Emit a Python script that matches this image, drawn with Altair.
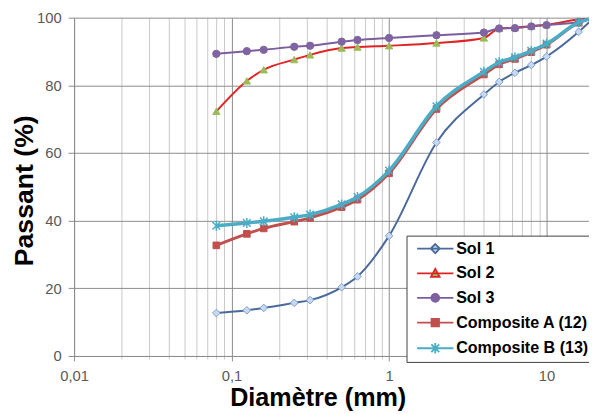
import altair as alt
import pandas as pd

# ---- data ----
diam = [0.08, 0.125, 0.16, 0.25, 0.315, 0.5, 0.63, 1, 2, 4, 5, 6.3, 8, 10, 16, 20]
sol1 = [12.7, 13.5, 14.2, 15.7, 16.5, 20.3, 23.5, 35.5, 63.1, 77.3, 81.0, 83.7, 86.0, 88.5, 95.8, 100]
sol2 = [72.3, 81.3, 84.6, 87.6, 89.0, 91.0, 91.3, 91.7, 92.5, 94.0, 96.8, 97.0, 97.5, 97.9, 99.5, 100]
sol3 = [89.3, 90.1, 90.5, 91.4, 91.7, 92.9, 93.4, 94.0, 94.8, 95.6, 96.8, 96.9, 97.4, 97.8, 98.7, 100]
compA = [32.7, 36.1, 37.7, 39.7, 40.8, 44.0, 46.2, 54.0, 73.0, 83.2, 86.2, 87.8, 89.8, 92.0, 98.5, 100]
compB = [38.5, 39.3, 39.8, 41.0, 41.8, 44.8, 47.0, 54.8, 73.8, 84.0, 86.8, 88.3, 90.2, 92.3, 98.6, 100]

names = ["Sol 1", "Sol 2", "Sol 3", "Composite A (12)", "Composite B (13)"]
series = [sol1, sol2, sol3, compA, compB]

x_ticks = [0.01, 0.1, 1, 10]
x_minor = [m * d for d in [0.01, 0.1, 1, 10] for m in range(2, 10)]
y_ticks = [0, 20, 40, 60, 80, 100]

# ---- styles ----
line_colors = ["#4A6A9C", "#E02424", "#7B5EA0", "#C0504D", "#4BACC6"]
line_widths = [2, 2, 2, 3, 3.5]
mk_fill = ["#C6D9F0", "#9BBB59", "#8064A2", "#C0504D", "#4BACC6"]
mk_stroke = ["#7F9FCF", "#9BBB59", "#8064A2", "#C0504D", "#4BACC6"]
mk_shape = ["diamond", "triangle-up", "circle", "square",
            "M-1,-1L1,1M-1,1L1,-1M0,-1.3V1.3"]
mk_size = [60, 55, 55, 45, 60]
leg_paths = [
    "M-4.6,0H4.6M0,-1.15L1.15,0L0,1.15L-1.15,0Z",
    "M-4.6,0H4.6M0,-1.1L1.1,0.9L-1.1,0.9Z",
    "M-4.6,0H4.6M1,0A1,1 0 1,1 -1,0A1,1 0 1,1 1,0Z",
    "M-4.6,0H4.6M-0.95,-0.95H0.95V0.95H-0.95Z",
    "M-4.6,0H4.6M-1,-1L1,1M-1,1L1,-1M0,-1.3V1.3",
]

rows = []
for n, vals in zip(names, series):
    for d, v in zip(diam, vals):
        rows.append({"serie": n, "diam": d, "pct": v})
df = pd.DataFrame(rows)

FONT = "Liberation Sans"
GRID = "#8C8C8C"
XMAX = 18.6

xscale = alt.Scale(type="log", domain=[0.01, XMAX], nice=False)
yscale = alt.Scale(domain=[0, 100], nice=False)

x_axis = alt.Axis(orient="bottom", values=x_ticks,
                  labelExpr="replace(toString(datum.value), '.', ',')",
                  grid=True, gridColor=GRID, gridWidth=1, domainColor=GRID,
                  tickColor=GRID, tickSize=5, labelColor="#595959", labelFont=FONT,
                  labelFontSize=15, labelPadding=8, title="Diamètre (mm)",
                  titleFont=FONT, titleFontSize=25.5, titleFontWeight="bold",
                  titleColor="black", titleX=247, titleY=42, titleAlign="center",
                  titleBaseline="middle", labelFlush=False)
y_axis = alt.Axis(orient="left", values=y_ticks, grid=True, gridColor=GRID, gridWidth=1,
                  domainColor=GRID, tickColor=GRID, tickSize=6, labelColor="#595959",
                  labelFont=FONT, labelFontSize=15, labelPadding=7,
                  title="Passant (%)", titleFont=FONT, titleFontSize=27,
                  titleFontWeight="bold", titleColor="black", titleX=-50, titleY=175,
                  titleAngle=270, titleAlign="center", titleBaseline="middle")

minor_axis = alt.Axis(orient="bottom", values=x_minor, grid=True, gridColor="#C8C8C8",
                      gridWidth=1, labels=False, domain=False, tickColor="#C8C8C8",
                      tickSize=3, title=None)

base = alt.Chart(df)

minor_layer = base.transform_filter(alt.datum.serie == "Sol 1").mark_line(opacity=0).encode(
    x=alt.X("diam:Q", scale=xscale, axis=minor_axis),
    y=alt.Y("pct:Q", scale=yscale, axis=None),
)

main_layers = []
for i, n in enumerate(names):
    sub = base.transform_filter(alt.datum.serie == n)
    enc = dict(x=alt.X("diam:Q", scale=xscale, axis=x_axis),
               y=alt.Y("pct:Q", scale=yscale, axis=y_axis))
    ln = sub.mark_line(color=line_colors[i], strokeWidth=line_widths[i],
                       interpolate="monotone", clip=True).encode(**enc)
    if i == 4:
        pt = sub.mark_point(shape=mk_shape[i], size=mk_size[i], filled=False,
                            stroke=mk_stroke[i], strokeWidth=1.5, opacity=1,
                            clip=True).encode(**enc)
    else:
        pt = sub.mark_point(shape=mk_shape[i], size=mk_size[i], filled=True,
                            fill=mk_fill[i], stroke=mk_stroke[i], strokeWidth=1,
                            opacity=1, clip=True).encode(**enc)
    main_layers += [ln, pt]

main = alt.layer(*main_layers)

leg_df = pd.DataFrame({"serie": names})
legend = alt.Legend(title=None, orient="none", legendX=337, legendY=221, padding=5,
                    rowPadding=8, symbolSize=64, symbolStrokeWidth=1.8,
                    symbolOffset=16, labelOffset=13, labelFont=FONT,
                    labelFontSize=16.3, labelFontWeight="bold", labelColor="black",
                    strokeColor="#404040", fillColor="white", cornerRadius=0)
leg_layer = alt.Chart(leg_df).transform_filter("false").mark_point(
    filled=True, opacity=1).encode(
    shape=alt.Shape("serie:N", scale=alt.Scale(domain=names, range=leg_paths), legend=legend),
    stroke=alt.Stroke("serie:N", scale=alt.Scale(domain=names, range=line_colors), legend=legend),
    fill=alt.Fill("serie:N", scale=alt.Scale(domain=names, range=mk_fill), legend=legend),
)

chart = alt.layer(minor_layer, main, leg_layer).resolve_axis(
    x="independent", y="independent"
).properties(
    width=522, height=343,
    autosize=alt.AutoSizeParams(type="none"),
    padding={"left": 67, "top": 7, "right": 0, "bottom": 54},
).configure_view(stroke=None)

chart.save("out.html", embed_options={"renderer": "svg", "actions": False})
